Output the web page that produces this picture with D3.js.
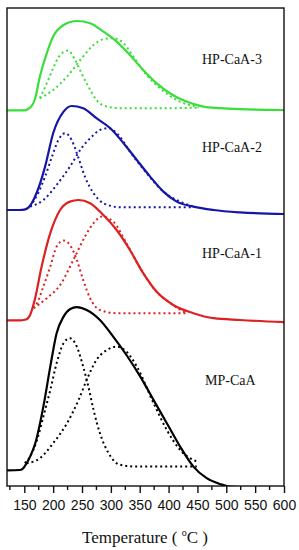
<!DOCTYPE html>
<html>
<head>
<meta charset="utf-8">
<script src="https://cdn.jsdelivr.net/npm/d3@7"></script>
<style>
  body { margin: 0; background: #fff; }
</style>
</head>
<body>
<div id="tpd"></div>
<script>
// samples, bottom to top
var samples = ["MP-CaA", "HP-CaA-1", "HP-CaA-2", "HP-CaA-3"];
var sampleColors = ["#000000", "#dd2020", "#1515a8", "#3ade3a"];
// vertical offset of each trace (a.u.)
var offsets = [7.8, 82.8, 138, 187.8];

var xTicks = [150, 200, 250, 300, 350, 400, 450, 500, 550, 600];
var xMinorTicks = [125, 175, 225, 275, 325, 375, 425, 475, 525, 575];

// measured profiles: [temperature, intensity]
var mpTotal = [[120,0],[142,0.2],[147,0.8],[154,3.6],[161,7.5],[169,13.6],[183,31.9],[195,51.9],[206,68.6],[218,76.9],[229,80.6],[241,81.6],[258,80.2],[281,75.2],[304,66.9],[327,57.7],[351,46.9],[374,35.2],[397,23.6],[420,11.9],[443,1.9],[466,-3.9],[489,-6.8],[506,-8.1],[530,-8.4],[600,-8.4]];
var mpPeak1 = [[151,3.6],[160,6.9],[172,15.2],[183,26.9],[195,40.2],[206,53.6],[218,63.6],[229,66.1],[241,61.9],[252,51.9],[261,41.9],[270,30.2],[281,18.6],[296,8.6],[316,2.8],[345,1.9],[403,1.9],[449,1.9]];
var mpPeak2 = [[154,3.6],[177,6.1],[200,13.6],[224,23.6],[244,35.2],[258,45.2],[275,55.2],[293,60.2],[310,61.9],[327,59.4],[345,51.9],[374,33.6],[397,20.2],[420,10.2],[449,4.4]];

var hp1Total = [[120,0],[142,0],[151,0.3],[156,1.0],[160,2.7],[168,10.2],[180,26.9],[195,43.6],[212,55.2],[229,59.4],[244,60.2],[264,58.6],[287,52.7],[310,45.2],[333,35.2],[356,23.6],[379,14.4],[408,7.7],[443,3.6],[478,1.1],[524,0.2],[600,-0.9]];
var hp1Peak1 = [[166,6.1],[172,8.6],[183,16.9],[195,26.9],[206,36.9],[218,39.9],[229,37.7],[241,30.2],[252,20.2],[264,11.1],[281,5.2],[310,3.6],[374,3.6],[431,3.6]];
var hp1Peak2 = [[166,6.1],[189,11.1],[212,17.7],[235,30.2],[255,41.9],[270,48.6],[284,51.9],[304,49.4],[327,38.6],[351,26.1],[374,16.1],[403,8.6],[431,3.6]];

var hp2Total = [[120,0],[142,0],[150,0.2],[157,1.2],[163,3.5],[172,9],[186,21.7],[200,38.4],[218,49.2],[232,52],[252,50.9],[275,45.9],[299,40.9],[322,33.4],[345,25],[368,16.7],[391,9.2],[414,4.2],[443,1.7],[478,0],[524,-1.2],[600,-2]];
var hp2Peak1 = [[160,1.7],[174,8.4],[186,16.7],[198,26.7],[209,35],[221,38.4],[232,35],[244,25.9],[255,16.7],[270,8.4],[287,3.4],[316,1.4],[403,1.4],[443,1.4]];
var hp2Peak2 = [[160,1.7],[183,5],[206,12.5],[229,21.7],[249,30.9],[267,36.7],[281,40],[296,40.9],[313,37.5],[333,29.2],[362,18.4],[391,9.2],[420,4.2],[443,1.7]];

var hp3Total = [[120,0],[142,0],[150,0],[156,0.6],[162,2.0],[168,5.2],[177,16.9],[189,28.6],[200,36.9],[218,42.7],[241,44.7],[264,43.6],[287,39.4],[310,34.4],[333,27.7],[356,20.2],[379,13.6],[402,8.6],[431,4.4],[460,1.9],[489,1.1],[524,0.6],[600,0.2]];
var hp3Peak1 = [[177,6.1],[189,13.6],[200,21.1],[212,27.7],[226,29.9],[238,25.2],[249,18.6],[261,11.9],[275,5.2],[293,1.9],[316,1.1],[403,1.1],[452,1.4]];
var hp3Peak2 = [[177,6.1],[200,10.2],[224,16.9],[247,25.2],[270,32.7],[287,35.6],[304,36.1],[322,33.6],[339,26.9],[362,17.7],[385,11.1],[414,5.2],[452,1.6]];

var totals = [mpTotal, hp1Total, hp2Total, hp3Total];
var peaks = [[mpPeak1, mpPeak2], [hp1Peak1, hp1Peak2], [hp2Peak1, hp2Peak2], [hp3Peak1, hp3Peak2]];

// set the dimensions and margins of the graph
var margin = {top: 8, right: 15, bottom: 64, left: 7},
    width = 299 - margin.left - margin.right,
    height = 550 - margin.top - margin.bottom;

var svg = d3.select("#tpd")
  .append("svg")
    .attr("width", 299)
    .attr("height", 550)
  .append("g")
    .attr("transform", "translate(" + margin.left + "," + margin.top + ")");

var x = d3.scaleLinear()
  .domain([120, 600])
  .range([0, width]);

var y = d3.scaleLinear()
  .domain([0, 239])
  .range([height, 0]);

svg.append("clipPath")
    .attr("id", "plotclip")
  .append("rect")
    .attr("x", 0)
    .attr("y", 0)
    .attr("width", width)
    .attr("height", height);

function lineFor(i) {
  return d3.line()
    .curve(d3.curveMonotoneX)
    .x(function (d) { return x(d[0]); })
    .y(function (d) { return y(d[1] + offsets[i]); });
}

var plot = svg.append("g").attr("clip-path", "url(#plotclip)");

samples.forEach(function (name, i) {
  peaks[i].forEach(function (p) {
    plot.append("path")
      .datum(p)
      .attr("d", lineFor(i))
      .attr("fill", "none")
      .attr("stroke", sampleColors[i])
      .attr("stroke-width", 2)
      .attr("stroke-dasharray", "2,3");
  });
  plot.append("path")
    .datum(totals[i])
    .attr("d", lineFor(i))
    .attr("fill", "none")
    .attr("stroke", sampleColors[i])
    .attr("stroke-width", 2.2);
});

// sample labels
var labelY = [377, 250, 144, 56];
samples.forEach(function (name, i) {
  svg.append("text")
    .attr("x", i == 0 ? 198 : 195)
    .attr("y", labelY[i])
    .attr("font-family", "Liberation Serif, Times New Roman, serif")
    .attr("font-size", 14)
    .attr("fill", "#111")
    .text(name);
});

// frame
svg.append("rect")
  .attr("x", 0)
  .attr("y", 0)
  .attr("width", width)
  .attr("height", height)
  .attr("fill", "none")
  .attr("stroke", "#111")
  .attr("stroke-width", 1.4);

// x axis, major and minor ticks
var xAxis = svg.append("g")
  .attr("transform", "translate(0," + height + ")")
  .call(d3.axisBottom(x).tickValues(xTicks).tickSize(7).tickPadding(7).tickSizeOuter(0));
xAxis.select(".domain").remove();
xAxis.selectAll("line").attr("stroke", "#111").attr("stroke-width", 1.4);
xAxis.selectAll("text")
  .attr("font-family", "Liberation Sans, Arial, sans-serif")
  .attr("font-size", 14)
  .attr("fill", "#111");

svg.append("g")
  .attr("transform", "translate(0," + height + ")")
  .selectAll("line")
  .data(xMinorTicks)
  .enter()
  .append("line")
    .attr("x1", function (d) { return x(d); })
    .attr("x2", function (d) { return x(d); })
    .attr("y1", 0)
    .attr("y2", 4)
    .attr("stroke", "#111")
    .attr("stroke-width", 1.4);

// axis title
var title = svg.append("text")
  .attr("x", 138)
  .attr("y", 535)
  .attr("text-anchor", "middle")
  .attr("font-family", "Liberation Serif, Times New Roman, serif")
  .attr("font-size", 17)
  .attr("fill", "#111");
title.append("tspan").text("Temperature ( ");
title.append("tspan").attr("font-size", 10).attr("dy", -7).text("o");
title.append("tspan").attr("dy", 7).text("C )");
</script>
</body>
</html>
